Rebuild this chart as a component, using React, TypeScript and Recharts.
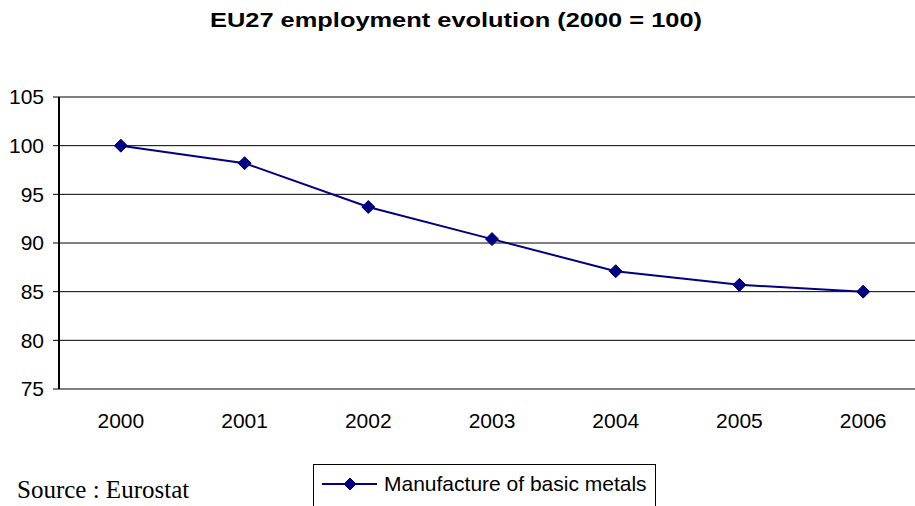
import { LineChart, Line, XAxis, YAxis, CartesianGrid, Legend } from "recharts";

const years = ["2000", "2001", "2002", "2003", "2004", "2005", "2006"];
const basicMetals = [100, 98.2, 93.7, 90.4, 87.1, 85.7, 85.0];
const yTicks = [75, 80, 85, 90, 95, 100, 105];

const data = years.map((year, i) => ({ i, year, value: basicMetals[i] }));
const labelTicks = years.map((_, i) => i);
const boundaryTicks = [...years.map((_, i) => i - 0.5), years.length - 0.5];

const NAVY = "#000080";
const SANS = "Arial, 'Liberation Sans', sans-serif";

function Diamond({ cx, cy, r = 6.5 }: { cx: number; cy: number; r?: number }) {
  if (cx == null || cy == null) return null;
  return (
    <path
      d={`M${cx},${cy - r} L${cx + r},${cy} L${cx},${cy + r} L${cx - r},${cy} Z`}
      fill={NAVY}
      stroke={NAVY}
    />
  );
}

function LegendBox() {
  return (
    <div
      style={{
        width: 343,
        height: 60,
        border: "1px solid #000",
        boxSizing: "border-box",
        display: "flex",
        alignItems: "flex-start",
        fontFamily: SANS,
        fontSize: 21,
        color: "#000",
      }}
    >
      <svg width={70} height={38} style={{ flexShrink: 0 }}>
        <line x1={8} y1={19} x2={63} y2={19} stroke={NAVY} strokeWidth={2} />
        <Diamond cx={36} cy={19} r={6} />
      </svg>
      <span style={{ lineHeight: "38px", whiteSpace: "nowrap" }}>Manufacture of basic metals</span>
    </div>
  );
}

export default function App() {
  return (
    <div
      style={{
        position: "fixed",
        left: 0,
        top: 0,
        width: 915,
        height: 506,
        overflow: "hidden",
        background: "#fff",
        fontFamily: SANS,
      }}
    >
      <div
        style={{
          position: "absolute",
          left: 0,
          top: 10,
          width: 912,
          textAlign: "center",
          fontWeight: "bold",
          fontSize: 20,
          lineHeight: "20px",
          transform: "scaleX(1.27)",
          transformOrigin: "456px 0",
        }}
      >
        EU27 employment evolution (2000 = 100)
      </div>

      <LineChart
        width={940}
        height={506}
        data={data}
        margin={{ top: 97, right: 15, bottom: 0, left: 0 }}
      >
        <CartesianGrid
          xAxisId="lab"
          vertical={false}
          stroke="#000"
          strokeWidth={1}
        />
        <XAxis
          xAxisId="tk"
          dataKey="i"
          type="number"
          domain={[-0.5, years.length - 0.5]}
          ticks={boundaryTicks}
          tickFormatter={() => ""}
          height={0}
          axisLine={{ stroke: "#000", strokeWidth: 1.5 }}
          tickLine={{ stroke: "#888" }}
          tickSize={6}
        />
        <XAxis
          xAxisId="lab"
          dataKey="i"
          type="number"
          domain={[-0.5, years.length - 0.5]}
          ticks={labelTicks}
          tickFormatter={(v: number) => years[v]}
          height={117}
          axisLine={false}
          tickLine={false}
          tickSize={0}
          tickMargin={24}
          tick={{ fill: "#000", fontSize: 21, fontFamily: SANS }}
        />
        <YAxis
          width={59}
          domain={[75, 105]}
          ticks={yTicks}
          axisLine={{ stroke: "#000", strokeWidth: 2 }}
          tickLine={{ stroke: "#000" }}
          tickSize={6}
          tickMargin={9}
          tick={{ fill: "#000", fontSize: 21, fontFamily: SANS }}
        />
        <Legend
          layout="vertical"
          align="center"
          verticalAlign="middle"
          wrapperStyle={{ left: 313, top: 464, width: 345 }}
          content={() => <LegendBox />}
        />
        <Line
          xAxisId="lab"
          type="linear"
          dataKey="value"
          name="Manufacture of basic metals"
          stroke={NAVY}
          strokeWidth={2}
          isAnimationActive={false}
          dot={(props: any) => <Diamond key={`d-${props.index}`} cx={props.cx} cy={props.cy} />}
          activeDot={false}
        />
      </LineChart>

      <div
        style={{
          position: "absolute",
          left: 17,
          top: 479,
          fontFamily: "'Times New Roman', 'Liberation Serif', serif",
          fontSize: 25,
          lineHeight: "22px",
          color: "#000",
          whiteSpace: "nowrap",
        }}
      >
        Source : Eurostat
      </div>
    </div>
  );
}
